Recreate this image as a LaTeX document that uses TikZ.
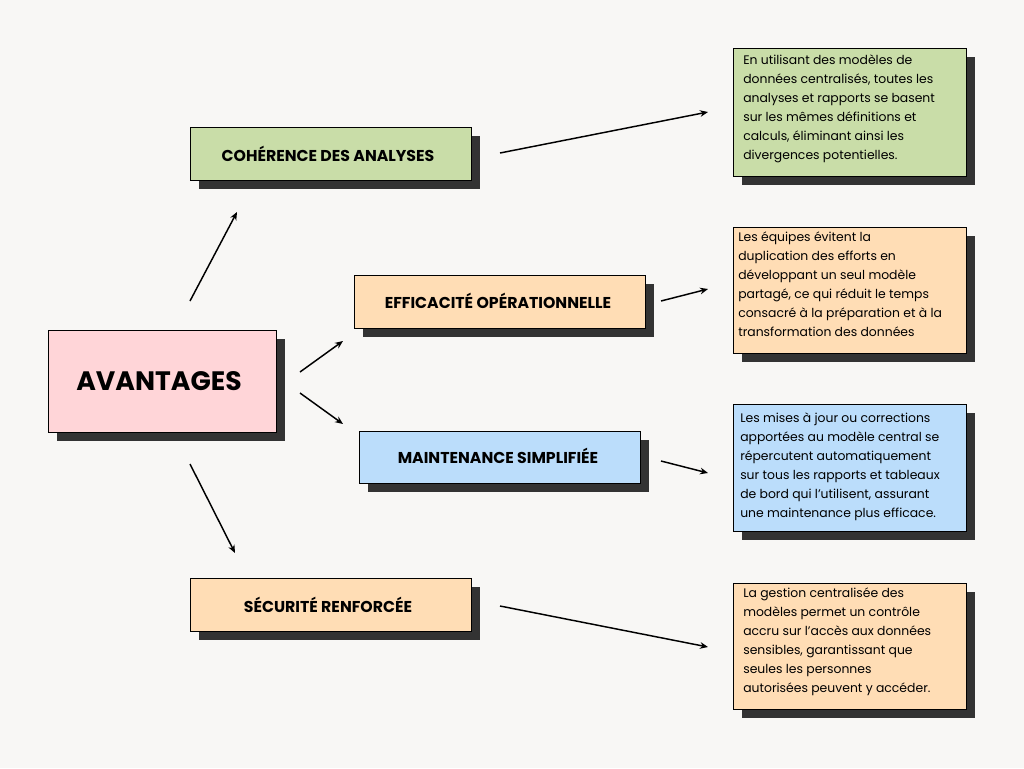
\documentclass[tikz,border=0pt]{standalone}
\usepackage{fontspec}
\setmainfont{Poppins}
\newfontfamily\headfont{Poppins}
\usetikzlibrary{arrows.meta}
\definecolor{bg}{HTML}{F8F7F5}
\definecolor{shad}{HTML}{333333}
\definecolor{pinkc}{HTML}{FFD5D8}
\definecolor{greenc}{HTML}{C9DDA8}
\definecolor{peachc}{HTML}{FFDDB5}
\definecolor{bluec}{HTML}{BBDDFB}
\tikzset{
 box/.style={draw=black, line width=1pt, inner sep=0pt, anchor=north west},
 sh/.style={fill=shad},
 head/.style={font=\headfont\bfseries\fontsize{11.8}{13}\selectfont},
 body/.style={font=\fontsize{9.3}{14.2}\selectfont, align=left, anchor=north west, inner sep=0pt},
 arr/.style={-{Stealth[length=6pt,width=5pt]}, line width=1.1pt},
}
\newcommand{\panel}[6]{% name, x1,y1,x2,y2, colour
 \fill[sh] (#2+9,#3+9) rectangle (#4+9,#5+9);
 \node[box, fill=#6, minimum width=(#4-#2)*0.75pt, minimum height=(#5-#3)*0.75pt] (#1) at (#2,#3) {};
}
\begin{document}
\begin{tikzpicture}[x=0.75pt,y=-0.75pt]
\fill[bg] (0,0) rectangle (1024,768);
\useasboundingbox (0,0) rectangle (1024,768);
\panel{av}{48}{330}{276}{432}{pinkc}
\node[font=\headfont\bfseries\fontsize{20}{24}\selectfont] at (159,381) {AVANTAGES};
\panel{coh}{190}{127}{471}{180}{greenc}
\node[head] at (328,154) {COHÉRENCE DES ANALYSES};
\panel{eff}{354}{275}{645}{328}{peachc}
\node[head] at (498,301) {EFFICACITÉ OPÉRATIONNELLE};
\panel{mai}{359}{431}{640}{483}{bluec}
\node[head] at (498,456) {MAINTENANCE SIMPLIFIÉE};
\panel{sec}{190}{578}{471}{631}{peachc}
\node[head] at (328,605) {SÉCURITÉ RENFORCÉE};
\panel{t1}{733}{48}{966}{176}{greenc}
\node[body] (b1) at (743,55) {En utilisant des modèles de\\données centralisés, toutes les\\analyses et rapports se basent\\sur les mêmes définitions et\\calculs, éliminant ainsi les\\divergences potentielles.};
\panel{t2}{733}{227}{966}{353}{peachc}
\node[body] (b2) at (738,232) {Les équipes évitent la\\duplication des efforts en\\développant un seul modèle\\partagé, ce qui réduit le temps\\consacré à la préparation et à la\\transformation des données};
\panel{t3}{733}{404}{966}{531}{bluec}
\node[body] (b3) at (740,413) {Les mises à jour ou corrections\\apportées au modèle central se\\répercutent automatiquement\\sur tous les rapports et tableaux\\de bord qui l'utilisent, assurant\\une maintenance plus efficace.};
\panel{t4}{733}{583}{966}{709}{peachc}
\node[body] (b4) at (743,588) {La gestion centralisée des\\modèles permet un contrôle\\accru sur l'accès aux données\\sensibles, garantissant que\\seules les personnes\\autorisées peuvent y accéder.};
\foreach \n/\a/\b/\c/\d in {a1/190/301/237/212, a2/300/372/343/341, a3/300/393/343/424, a4/190/464/235/553, a5/500/153/708/112, a6/661/301/708/289, a7/661/461/708/473, a8/500/606/708/647}{
 \coordinate (\n s) at (\a,\b); \coordinate (\n e) at (\c,\d);
 \draw[arr] (\n s) -- (\n e);
}
\end{tikzpicture}
\end{document}
